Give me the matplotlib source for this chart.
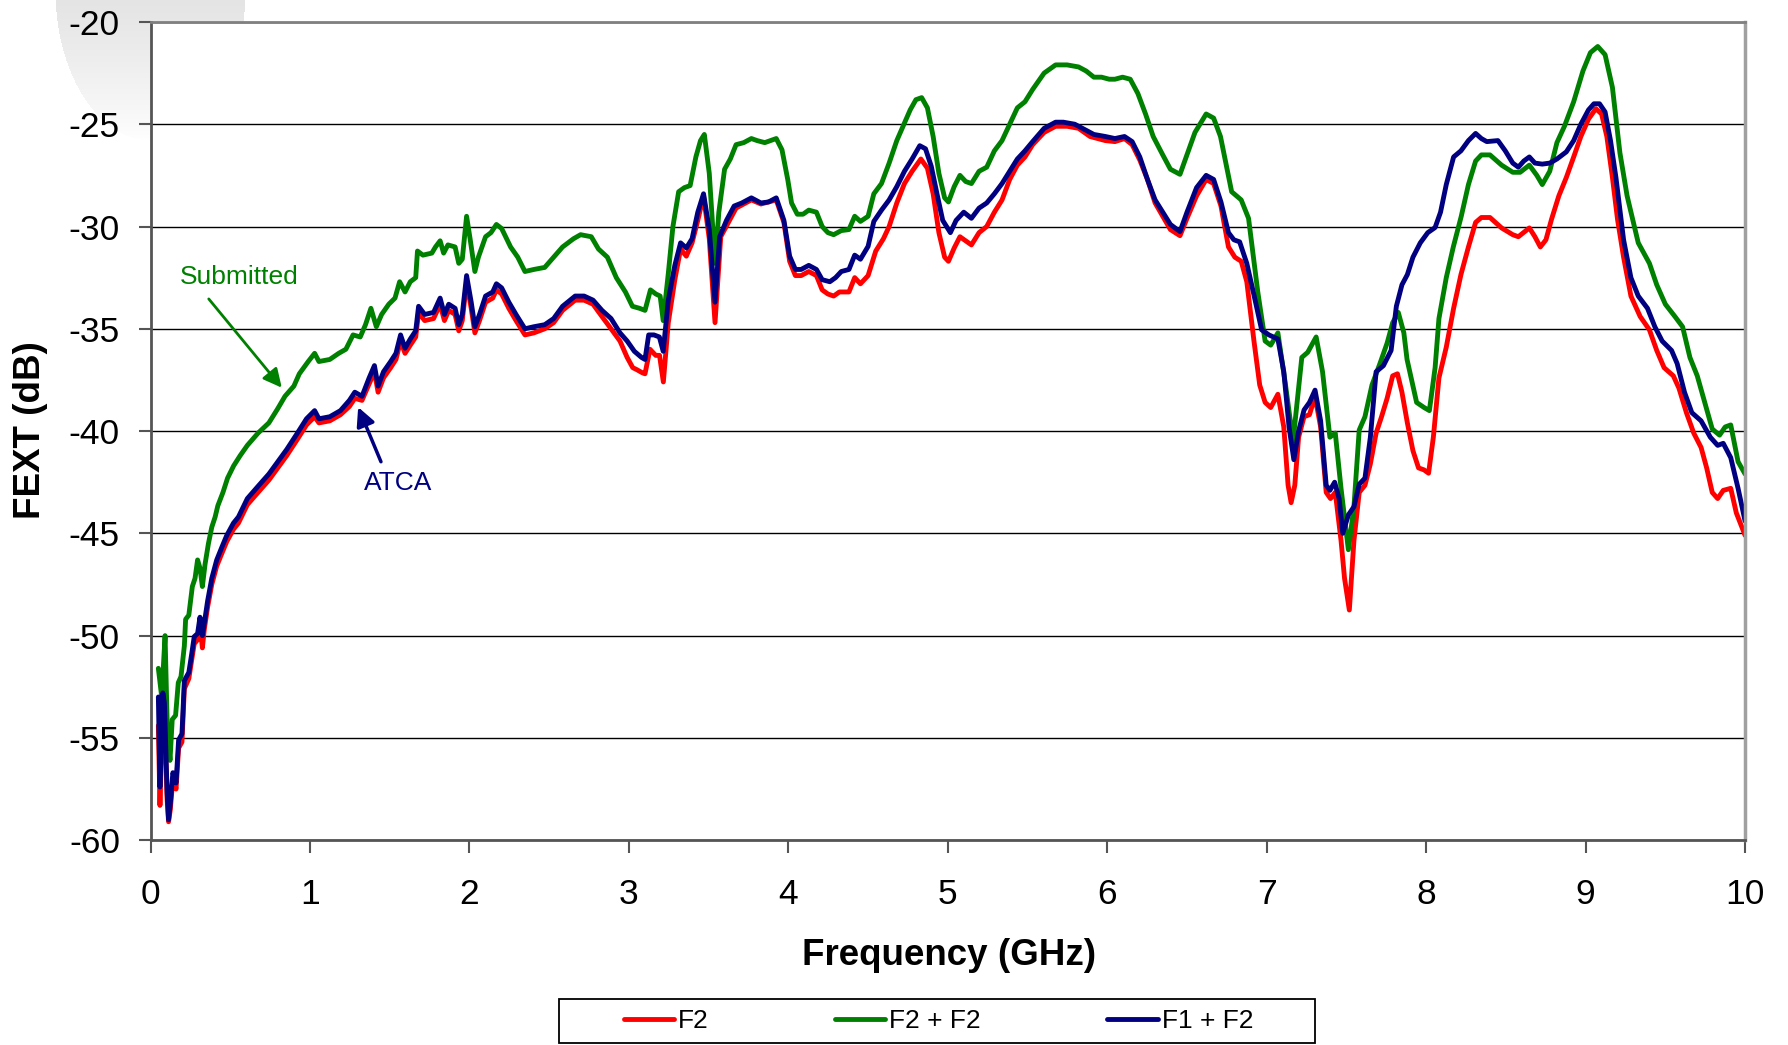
"""FEXT vs frequency for the three connector configurations."""

import numpy as np
import matplotlib
matplotlib.use('Agg')
import matplotlib.pyplot as plt
from matplotlib.patches import Rectangle

plt.rcParams['font.family'] = ['Liberation Sans', 'DejaVu Sans']
plt.rcParams['axes.unicode_minus'] = False

# ---- data (GHz, dB) ----
freq_f2 = [
    0.049, 0.059, 0.077, 0.087, 0.104, 0.113, 0.124, 0.14, 0.16, 0.176, 0.197, 0.212, 0.24, 0.258,
    0.274, 0.295, 0.31, 0.325, 0.337, 0.358, 0.384, 0.415, 0.446, 0.478, 0.52, 0.551, 0.607, 0.674,
    0.742, 0.798, 0.854, 0.921, 0.978, 1.029, 1.056, 1.124, 1.191, 1.247, 1.281, 1.326, 1.371, 1.404,
    1.427, 1.461, 1.506, 1.539, 1.568, 1.596, 1.629, 1.663, 1.681, 1.719, 1.775, 1.816, 1.843, 1.87,
    1.91, 1.933, 1.955, 1.982, 2.011, 2.034, 2.063, 2.101, 2.146, 2.169, 2.202, 2.247, 2.292, 2.348,
    2.404, 2.472, 2.528, 2.584, 2.663, 2.719, 2.775, 2.831, 2.888, 2.944, 2.989, 3.024, 3.05, 3.084,
    3.101, 3.132, 3.168, 3.192, 3.216, 3.247, 3.288, 3.324, 3.36, 3.396, 3.432, 3.468, 3.504, 3.54,
    3.576, 3.624, 3.672, 3.72, 3.768, 3.828, 3.924, 3.972, 4.008, 4.044, 4.08, 4.128, 4.176, 4.212,
    4.248, 4.284, 4.32, 4.38, 4.416, 4.452, 4.5, 4.548, 4.596, 4.632, 4.68, 4.728, 4.776, 4.831,
    4.872, 4.908, 4.944, 4.98, 5.004, 5.04, 5.076, 5.112, 5.148, 5.196, 5.244, 5.292, 5.34, 5.388,
    5.436, 5.484, 5.532, 5.604, 5.676, 5.748, 5.82, 5.892, 5.988, 6.048, 6.108, 6.156, 6.204, 6.252,
    6.3, 6.348, 6.396, 6.456, 6.5, 6.56, 6.62, 6.667, 6.713, 6.76, 6.8, 6.84, 6.875, 6.92,
    6.956, 6.99, 7.025, 7.07, 7.107, 7.134, 7.153, 7.176, 7.2, 7.234, 7.268, 7.303, 7.338, 7.373,
    7.4, 7.43, 7.466, 7.488, 7.518, 7.547, 7.58, 7.616, 7.65, 7.686, 7.72, 7.755, 7.79, 7.82,
    7.848, 7.882, 7.917, 7.952, 7.987, 8.015, 8.045, 8.08, 8.126, 8.172, 8.218, 8.265, 8.31, 8.346,
    8.4, 8.473, 8.543, 8.578, 8.647, 8.682, 8.716, 8.751, 8.786, 8.832, 8.879, 8.925, 8.97, 9.018,
    9.064, 9.1, 9.133, 9.168, 9.2, 9.238, 9.284, 9.342, 9.4, 9.446, 9.492, 9.55, 9.585, 9.632,
    9.678, 9.724, 9.759, 9.794, 9.828, 9.863, 9.91, 9.945, 9.98, 10.0,
]
fext_f2 = [
    -54.4, -58.3, -53.2, -53.8, -58.0, -59.1, -58.5, -57.0, -57.5, -55.5, -55.2, -52.6, -52.1, -51.2,
    -50.4, -50.2, -49.4, -50.6, -49.7, -48.6, -47.5, -46.6, -46.0, -45.4, -44.8, -44.5, -43.6, -43.0,
    -42.4, -41.8, -41.2, -40.4, -39.7, -39.3, -39.6, -39.5, -39.2, -38.8, -38.4, -38.5, -37.7, -37.1,
    -38.1, -37.4, -36.9, -36.5, -35.6, -36.2, -35.8, -35.4, -34.2, -34.6, -34.5, -33.8, -34.6, -34.1,
    -34.3, -35.1, -34.6, -32.7, -34.0, -35.2, -34.6, -33.7, -33.5, -33.1, -33.3, -34.0, -34.6, -35.3,
    -35.2, -35.0, -34.7, -34.1, -33.6, -33.6, -33.8, -34.4, -35.0, -35.6, -36.4, -36.9, -37.0, -37.15,
    -37.2, -36.0, -36.3, -36.3, -37.6, -34.7, -32.6, -31.1, -31.45, -30.8, -29.7, -28.5, -30.6, -34.7,
    -30.5, -29.8, -29.1, -28.9, -28.7, -28.9, -28.7, -29.8, -31.7, -32.4, -32.4, -32.2, -32.4, -33.1,
    -33.3, -33.4, -33.2, -33.2, -32.5, -32.8, -32.4, -31.2, -30.6, -30.0, -28.85, -27.9, -27.3, -26.7,
    -27.15, -28.4, -30.3, -31.5, -31.7, -31.05, -30.5, -30.7, -30.9, -30.3, -30.0, -29.3, -28.7, -27.7,
    -27.0, -26.6, -26.0, -25.4, -25.1, -25.1, -25.2, -25.6, -25.8, -25.85, -25.7, -26.0, -26.75, -27.7,
    -28.85, -29.5, -30.15, -30.45, -29.6, -28.5, -27.7, -27.9, -29.0, -31.0, -31.5, -31.7, -32.7, -35.6,
    -37.75, -38.6, -38.85, -38.2, -39.8, -42.65, -43.5, -42.65, -40.3, -39.3, -39.2, -38.3, -39.8, -43.0,
    -43.3, -43.0, -45.35, -47.2, -48.75, -45.35, -43.0, -42.65, -41.6, -40.1, -39.3, -38.4, -37.3, -37.2,
    -38.1, -39.6, -40.96, -41.8, -41.9, -42.06, -40.3, -37.4, -35.9, -34.0, -32.35, -31.0, -29.8, -29.56,
    -29.56, -30.07, -30.4, -30.5, -30.07, -30.5, -31.0, -30.65, -29.65, -28.5, -27.6, -26.6, -25.6, -24.75,
    -24.24, -24.5, -25.6, -27.6, -29.65, -31.5, -33.4, -34.4, -35.05, -36.06, -36.9, -37.3, -37.9, -39.1,
    -40.1, -40.8, -41.8, -43.0, -43.3, -42.9, -42.8, -44.0, -44.7, -45.1,
]

freq_f2f2 = [
    0.049, 0.07, 0.091, 0.105, 0.122, 0.136, 0.157, 0.174, 0.191, 0.212, 0.22, 0.24, 0.262, 0.279,
    0.295, 0.31, 0.325, 0.342, 0.363, 0.384, 0.405, 0.422, 0.454, 0.483, 0.521, 0.562, 0.607, 0.674,
    0.742, 0.798, 0.843, 0.899, 0.933, 0.989, 1.029, 1.056, 1.124, 1.18, 1.225, 1.27, 1.315, 1.348,
    1.382, 1.416, 1.449, 1.494, 1.533, 1.562, 1.596, 1.629, 1.663, 1.674, 1.708, 1.764, 1.787, 1.816,
    1.838, 1.865, 1.91, 1.933, 1.955, 1.982, 2.004, 2.034, 2.056, 2.101, 2.135, 2.169, 2.202, 2.258,
    2.303, 2.348, 2.404, 2.472, 2.517, 2.584, 2.652, 2.697, 2.764, 2.809, 2.865, 2.921, 2.978, 3.022,
    3.067, 3.101, 3.135, 3.169, 3.196, 3.215, 3.247, 3.276, 3.312, 3.348, 3.384, 3.42, 3.449, 3.473,
    3.504, 3.54, 3.564, 3.6, 3.636, 3.672, 3.72, 3.768, 3.804, 3.852, 3.888, 3.924, 3.96, 3.996,
    4.02, 4.056, 4.092, 4.128, 4.176, 4.212, 4.248, 4.284, 4.332, 4.38, 4.416, 4.452, 4.5, 4.536,
    4.584, 4.632, 4.68, 4.728, 4.764, 4.8, 4.836, 4.872, 4.908, 4.944, 4.98, 5.004, 5.04, 5.076,
    5.112, 5.148, 5.196, 5.244, 5.292, 5.34, 5.388, 5.436, 5.484, 5.532, 5.604, 5.676, 5.748, 5.82,
    5.868, 5.916, 5.964, 6.012, 6.048, 6.096, 6.144, 6.192, 6.24, 6.288, 6.348, 6.396, 6.456, 6.55,
    6.62, 6.667, 6.71, 6.78, 6.84, 6.886, 6.944, 6.99, 7.025, 7.07, 7.118, 7.165, 7.22, 7.257,
    7.31, 7.35, 7.396, 7.43, 7.466, 7.512, 7.547, 7.58, 7.616, 7.66, 7.71, 7.755, 7.79, 7.825,
    7.86, 7.88, 7.94, 7.987, 8.02, 8.056, 8.08, 8.126, 8.17, 8.22, 8.265, 8.31, 8.346, 8.4,
    8.473, 8.543, 8.589, 8.647, 8.694, 8.728, 8.775, 8.82, 8.867, 8.925, 8.983, 9.03, 9.076, 9.122,
    9.168, 9.215, 9.26, 9.33, 9.4, 9.446, 9.5, 9.56, 9.608, 9.654, 9.7, 9.747, 9.794, 9.84,
    9.875, 9.91, 9.956, 10.0,
]
fext_f2f2 = [
    -51.6, -53.0, -50.0, -54.5, -56.1, -54.1, -53.9, -52.3, -52.0, -50.5, -49.2, -49.0, -47.6, -47.2,
    -46.3, -46.7, -47.6, -46.5, -45.5, -44.7, -44.2, -43.65, -43.0, -42.3, -41.7, -41.2, -40.7, -40.1,
    -39.6, -38.9, -38.3, -37.8, -37.2, -36.6, -36.2, -36.6, -36.5, -36.2, -36.0, -35.3, -35.4, -34.8,
    -34.0, -34.9, -34.3, -33.8, -33.5, -32.7, -33.2, -32.7, -32.5, -31.2, -31.4, -31.3, -31.0, -30.7,
    -31.3, -30.9, -31.0, -31.8, -31.6, -29.5, -30.6, -32.2, -31.5, -30.5, -30.3, -29.9, -30.1, -31.0,
    -31.5, -32.2, -32.1, -32.0, -31.6, -31.0, -30.6, -30.4, -30.5, -31.1, -31.5, -32.5, -33.2, -33.9,
    -34.0, -34.1, -33.1, -33.3, -33.4, -34.6, -32.3, -30.0, -28.3, -28.1, -28.0, -26.6, -25.8, -25.5,
    -27.4, -31.8, -29.3, -27.2, -26.7, -26.0, -25.9, -25.7, -25.8, -25.9, -25.8, -25.7, -26.25, -27.7,
    -28.85, -29.4, -29.4, -29.2, -29.3, -30.0, -30.3, -30.4, -30.2, -30.15, -29.5, -29.75, -29.5, -28.4,
    -27.9, -26.9, -25.8, -24.95, -24.3, -23.8, -23.7, -24.2, -25.6, -27.4, -28.6, -28.8, -28.05, -27.5,
    -27.8, -27.9, -27.3, -27.1, -26.3, -25.8, -25.0, -24.2, -23.9, -23.3, -22.5, -22.1, -22.1, -22.2,
    -22.4, -22.7, -22.7, -22.8, -22.8, -22.7, -22.8, -23.5, -24.5, -25.6, -26.5, -27.2, -27.45, -25.4,
    -24.5, -24.7, -25.6, -28.3, -28.7, -29.6, -33.2, -35.6, -35.8, -35.2, -37.75, -40.5, -36.4, -36.15,
    -35.4, -37.1, -40.3, -40.1, -42.8, -45.8, -43.7, -39.95, -39.3, -37.75, -36.7, -35.7, -34.7, -34.2,
    -35.2, -36.5, -38.6, -38.85, -39.0, -36.9, -34.5, -32.5, -31.0, -29.5, -27.95, -26.8, -26.5, -26.5,
    -27.0, -27.35, -27.35, -27.0, -27.5, -27.95, -27.3, -25.9, -25.1, -23.9, -22.4, -21.5, -21.2, -21.6,
    -23.2, -26.4, -28.5, -30.8, -31.8, -32.85, -33.8, -34.4, -34.9, -36.4, -37.3, -38.6, -39.9, -40.2,
    -39.8, -39.7, -41.5, -42.1,
]

freq_f1f2 = [
    0.049, 0.059, 0.077, 0.087, 0.104, 0.113, 0.124, 0.14, 0.16, 0.176, 0.197, 0.212, 0.24, 0.258,
    0.274, 0.295, 0.31, 0.325, 0.337, 0.358, 0.384, 0.415, 0.446, 0.478, 0.52, 0.551, 0.607, 0.674,
    0.742, 0.798, 0.854, 0.921, 0.978, 1.029, 1.056, 1.124, 1.191, 1.247, 1.281, 1.326, 1.371, 1.404,
    1.427, 1.461, 1.506, 1.539, 1.568, 1.596, 1.629, 1.663, 1.681, 1.719, 1.775, 1.816, 1.843, 1.87,
    1.91, 1.933, 1.955, 1.982, 2.011, 2.034, 2.063, 2.101, 2.146, 2.169, 2.202, 2.247, 2.292, 2.348,
    2.404, 2.472, 2.528, 2.584, 2.663, 2.719, 2.775, 2.831, 2.888, 2.944, 2.989, 3.034, 3.079, 3.101,
    3.124, 3.157, 3.191, 3.215, 3.247, 3.288, 3.324, 3.36, 3.396, 3.432, 3.468, 3.504, 3.54, 3.569,
    3.612, 3.66, 3.708, 3.768, 3.828, 3.876, 3.924, 3.972, 4.008, 4.044, 4.08, 4.128, 4.176, 4.212,
    4.26, 4.296, 4.332, 4.38, 4.416, 4.452, 4.5, 4.536, 4.584, 4.632, 4.68, 4.728, 4.776, 4.824,
    4.86, 4.896, 4.932, 4.968, 5.016, 5.052, 5.1, 5.148, 5.196, 5.244, 5.292, 5.34, 5.388, 5.436,
    5.484, 5.532, 5.604, 5.676, 5.724, 5.796, 5.868, 5.916, 5.988, 6.048, 6.108, 6.156, 6.204, 6.252,
    6.3, 6.348, 6.396, 6.456, 6.5, 6.56, 6.62, 6.667, 6.713, 6.76, 6.794, 6.83, 6.875, 6.92,
    6.968, 7.014, 7.07, 7.107, 7.14, 7.17, 7.2, 7.234, 7.268, 7.303, 7.338, 7.373, 7.396, 7.426,
    7.454, 7.477, 7.512, 7.547, 7.58, 7.616, 7.65, 7.686, 7.732, 7.78, 7.813, 7.848, 7.882, 7.917,
    7.963, 8.01, 8.056, 8.09, 8.126, 8.172, 8.218, 8.265, 8.31, 8.346, 8.38, 8.45, 8.496, 8.543,
    8.578, 8.612, 8.647, 8.682, 8.728, 8.775, 8.82, 8.879, 8.925, 8.97, 9.018, 9.052, 9.087, 9.122,
    9.156, 9.19, 9.238, 9.284, 9.33, 9.388, 9.434, 9.48, 9.539, 9.574, 9.62, 9.666, 9.724, 9.782,
    9.828, 9.863, 9.91, 9.956, 10.0,
]
fext_f1f2 = [
    -53.0, -57.4, -52.8, -53.3, -57.7, -59.0, -58.2, -56.7, -57.2, -55.1, -54.8, -52.2, -51.8, -50.9,
    -50.05, -49.9, -49.1, -50.0, -49.4, -48.3, -47.2, -46.3, -45.7, -45.1, -44.5, -44.2, -43.3, -42.7,
    -42.1, -41.5, -40.9, -40.1, -39.4, -39.0, -39.4, -39.3, -39.0, -38.5, -38.1, -38.3, -37.4, -36.8,
    -37.8, -37.1, -36.6, -36.2, -35.3, -35.95, -35.5, -35.1, -33.9, -34.3, -34.2, -33.5, -34.3, -33.8,
    -34.0, -34.8, -34.3, -32.4, -33.7, -34.9, -34.3, -33.4, -33.2, -32.8, -33.0, -33.7, -34.3, -35.0,
    -34.9, -34.8, -34.5, -33.9, -33.4, -33.4, -33.6, -34.1, -34.5, -35.2, -35.6, -36.1, -36.4, -36.5,
    -35.3, -35.3, -35.4, -36.1, -33.6, -31.9, -30.8, -31.05, -30.6, -29.3, -28.4, -30.15, -33.7, -30.5,
    -29.7, -29.0, -28.85, -28.6, -28.85, -28.8, -28.6, -29.7, -31.45, -32.1, -32.1, -31.9, -32.1, -32.6,
    -32.7, -32.5, -32.2, -32.1, -31.4, -31.6, -30.97, -29.75, -29.2, -28.7, -28.05, -27.3, -26.7, -26.05,
    -26.2, -27.05, -28.4, -29.7, -30.3, -29.7, -29.3, -29.6, -29.1, -28.85, -28.4, -27.9, -27.3, -26.7,
    -26.3, -25.85, -25.2, -24.9, -24.9, -25.0, -25.3, -25.5, -25.6, -25.7, -25.6, -25.85, -26.6, -27.7,
    -28.7, -29.3, -29.9, -30.25, -29.3, -28.1, -27.5, -27.7, -28.8, -30.3, -30.65, -30.75, -31.8, -33.35,
    -35.05, -35.3, -35.5, -37.1, -39.8, -41.4, -40.0, -38.97, -38.6, -38.0, -39.5, -42.65, -42.9, -42.5,
    -43.3, -45.0, -44.1, -43.7, -42.6, -42.3, -40.3, -37.1, -36.8, -36.06, -33.9, -32.85, -32.35, -31.5,
    -30.8, -30.3, -30.05, -29.3, -27.95, -26.6, -26.3, -25.8, -25.45, -25.7, -25.85, -25.8, -26.3, -26.9,
    -27.1, -26.8, -26.6, -26.9, -26.95, -26.9, -26.7, -26.35, -25.8, -25.0, -24.3, -24.0, -24.0, -24.4,
    -25.8, -27.6, -30.65, -32.5, -33.4, -34.0, -34.9, -35.6, -36.06, -36.7, -38.1, -39.1, -39.5, -40.3,
    -40.7, -40.6, -41.3, -42.8, -44.4,
]

series_labels = ['F2', 'F2 + F2', 'F1 + F2']
series_colors = ['#ff0000', '#008000', '#000080']

# ---- figure ----
fig = plt.figure(figsize=(17.88, 10.45), dpi=100)

# faint grey logo remnant in the top-left corner
wm_ax = fig.add_axes([0, 1 - 160 / 1045, 260 / 1788, 160 / 1045], zorder=-5)
yy, xx = np.mgrid[0:160, 0:260]
inside = ((xx - 150) / 95.0) ** 2 + ((yy + 10) / 150.0) ** 2 < 1
alpha = np.clip(1 - yy / 140.0, 0, 1) ** 0.8 * inside * 0.75
wm = np.zeros((160, 260, 4))
wm[..., :3] = 0.86
wm[..., 3] = alpha
wm_ax.imshow(wm, aspect='auto', interpolation='bilinear')
wm_ax.axis('off')

ax = fig.add_axes([0.0842, 0.196, 0.8918, 0.783])
ax.set_facecolor('white')

lines = []
for fx, fy, lab, col in zip([freq_f2, freq_f2f2, freq_f1f2],
                            [fext_f2, fext_f2f2, fext_f1f2],
                            series_labels, series_colors):
    ln, = ax.plot(fx, fy, color=col, linewidth=3.5, label=lab,
                  solid_joinstyle='round', solid_capstyle='round')
    lines.append(ln)

ax.set_xlim(0, 10)
ax.set_ylim(-60, -20)
ax.set_xticks(range(0, 11))
ax.set_yticks(range(-60, -19, 5))
ax.yaxis.grid(True, color='black', linewidth=1.0)
ax.set_axisbelow(True)

ax.tick_params(axis='both', labelsize=25.5, length=9, width=1.5, color='#555555', direction='out')
ax.tick_params(axis='y', pad=13)
ax.tick_params(axis='x', pad=18)

for side in ['left', 'bottom']:
    ax.spines[side].set_color('#555555')
    ax.spines[side].set_linewidth(2)
ax.spines['top'].set_color('#808080')
ax.spines['top'].set_linewidth(2)
ax.spines['right'].set_color('#a0a0a0')
ax.spines['right'].set_linewidth(2.5)

fig.text(0.5306, 0.0855, 'Frequency (GHz)', ha='center', va='center',
         fontsize=26.5, fontweight='bold')
fig.text(0.0172, 0.5886, 'FEXT (dB)', ha='center', va='center', rotation=90,
         fontsize=26.5, fontweight='bold')

# annotations
ax.text(0.558, -32.48, 'Submitted', color='#008000', fontsize=19, ha='center', va='center')
ax.annotate('', xy=(0.823, -37.88), xytext=(0.365, -33.54),
            arrowprops=dict(arrowstyle='-|>', color='#008000', lw=2, mutation_scale=28,
                            shrinkA=0, shrinkB=0))
ax.text(1.552, -42.56, 'ATCA', color='#000080', fontsize=19, ha='center', va='center')
ax.annotate('', xy=(1.302, -38.83), xytext=(1.445, -41.5),
            arrowprops=dict(arrowstyle='-|>', color='#000080', lw=2.5, mutation_scale=28,
                            shrinkA=0, shrinkB=0))

# legend box at the bottom
fig.legend(handles=lines, labels=series_labels, loc='center', bbox_to_anchor=(0.5248, 0.023),
           ncol=3, frameon=False, fontsize=19, handlelength=1.9, handletextpad=0.15,
           columnspacing=4.8)
fig.patches.append(Rectangle((559 / 1788, 2 / 1045), 756 / 1788, 44 / 1045,
                             transform=fig.transFigure, fill=False,
                             edgecolor='black', linewidth=1.3))

plt.savefig('out.png', dpi=100)
plt.close()
